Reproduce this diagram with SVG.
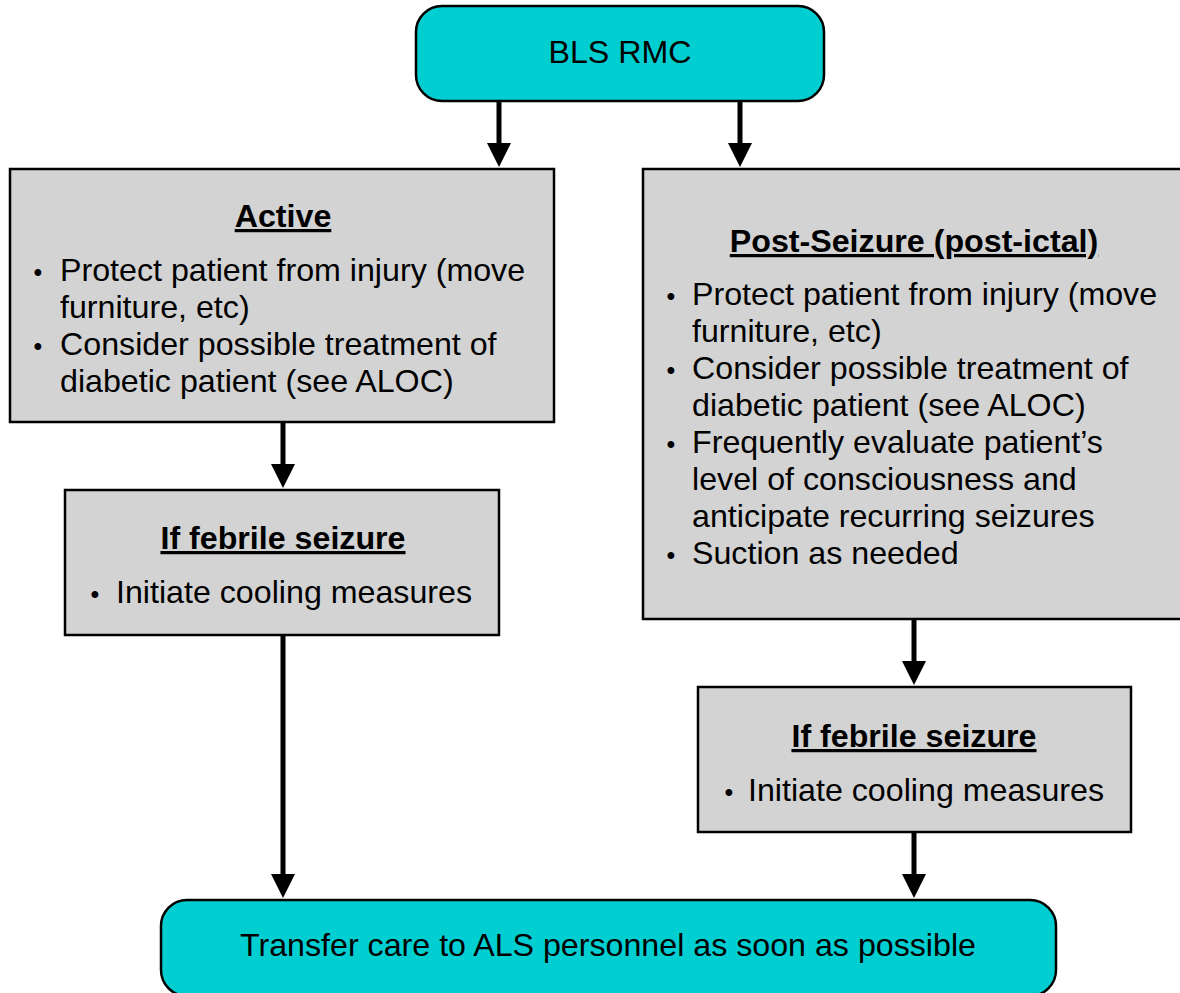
<svg xmlns="http://www.w3.org/2000/svg" width="1180" height="993" viewBox="0 0 1180 993">
<defs>
<style>
.term{fill:#00CED1;stroke:#000;stroke-width:2.5}
.box{fill:#D3D3D3;stroke:#000;stroke-width:2.5}
text{font-family:"Liberation Sans",Arial,Helvetica,sans-serif;font-size:32.2px;fill:#000}
.c{text-anchor:middle}
.t{font-weight:bold;text-decoration:underline;text-anchor:middle}
.b{font-size:25px;text-anchor:middle}
.conn line{stroke:#000;stroke-width:5;marker-end:url(#ah)}
</style>
<marker id="ah" markerUnits="userSpaceOnUse" markerWidth="26" markerHeight="26" refX="14" refY="12" orient="auto">
<path d="M0,0 L24,12 L0,24 z" fill="#000"/>
</marker>
</defs>
<rect width="1180" height="993" fill="#fff"/>
<g class="conn" id="connectors">
<line x1="499" y1="101" x2="499" y2="157"/>
<line x1="740" y1="101" x2="740" y2="157"/>
<line x1="283" y1="422" x2="283" y2="478"/>
<line x1="283" y1="635" x2="283" y2="888"/>
<line x1="914" y1="619" x2="914" y2="675"/>
<line x1="914" y1="832" x2="914" y2="888"/>
</g>
<g id="start">
<rect class="term" x="416" y="6" width="408" height="95" rx="26"/>
<text class="c" x="620" y="63">BLS RMC</text>
</g>
<g id="active">
<rect class="box" x="10" y="169" width="544" height="253"/>
<text class="t" x="283" y="227">Active</text>
<text class="b" x="38" y="281">•</text>
<text x="60" y="281">Protect patient from injury (move</text>
<text x="60" y="318">furniture, etc)</text>
<text class="b" x="38" y="355">•</text>
<text x="60" y="355">Consider possible treatment of</text>
<text x="60" y="392">diabetic patient (see ALOC)</text>
</g>
<g id="febrile-left">
<rect class="box" x="65" y="490" width="434" height="145"/>
<text class="t" x="283" y="549">If febrile seizure</text>
<text class="b" x="95" y="603">•</text>
<text x="116" y="603">Initiate cooling measures</text>
</g>
<g id="post-seizure">
<rect class="box" x="643" y="169" width="545" height="450"/>
<text class="t" x="914" y="252">Post-Seizure (post-ictal)</text>
<text class="b" x="671" y="305">•</text>
<text x="692" y="305">Protect patient from injury (move</text>
<text x="692" y="342">furniture, etc)</text>
<text class="b" x="671" y="379">•</text>
<text x="692" y="379">Consider possible treatment of</text>
<text x="692" y="416">diabetic patient (see ALOC)</text>
<text class="b" x="671" y="453">•</text>
<text x="692" y="453">Frequently evaluate patient’s</text>
<text x="692" y="490">level of consciousness and</text>
<text x="692" y="527">anticipate recurring seizures</text>
<text class="b" x="671" y="564">•</text>
<text x="692" y="564">Suction as needed</text>
</g>
<g id="febrile-right">
<rect class="box" x="698" y="687" width="433" height="145"/>
<text class="t" x="914" y="747">If febrile seizure</text>
<text class="b" x="729" y="801">•</text>
<text x="748" y="801">Initiate cooling measures</text>
</g>
<g id="end">
<rect class="term" x="161" y="900" width="895" height="96" rx="26"/>
<text class="c" x="608" y="956">Transfer care to ALS personnel as soon as possible</text>
</g>
</svg>
